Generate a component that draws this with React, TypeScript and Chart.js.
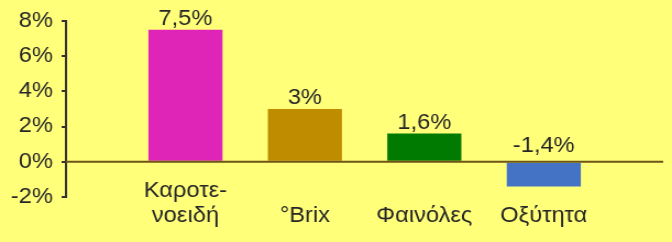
import React, { useEffect, useRef } from "react";
import { Chart, registerables } from "chart.js";

Chart.register(...registerables);

const categories: string[] = ["", "Καροτε-\nνοειδή", "°Brix", "Φαινόλες", "Οξύτητα", ""];
const values: (number | null)[] = [null, 7.5, 3, 1.6, -1.4, null];
const valueLabels: string[] = ["", "7,5%", "3%", "1,6%", "-1,4%", ""];
const barColors: string[] = ["#000000", "#DF25B8", "#BF8C00", "#007A00", "#4472C4", "#000000"];
const yTicks = { min: -2, max: 8, step: 2 };

const FONT = "'Liberation Sans', Arial, sans-serif";
const TEXT = "#262626";
const FS = 21.5;
const CANVAS_W = 611; // drawn narrower and shown stretched to 672px, like the reference
const CANVAS_H = 242;

const overlay = {
  id: "overlay",
  afterDatasetsDraw(chart: any) {
    const { ctx, scales } = chart;
    const x = scales.x;
    const y = scales.y;
    const y0 = y.getPixelForValue(0);
    ctx.save();
    // zero line
    ctx.strokeStyle = "#6E5416";
    ctx.lineWidth = 2;
    ctx.beginPath();
    ctx.moveTo(x.left, y0);
    ctx.lineTo(x.right, y0);
    ctx.stroke();
    ctx.fillStyle = TEXT;
    ctx.font = FS + "px " + FONT;
    ctx.textAlign = "center";
    ctx.textBaseline = "alphabetic";
    // value labels
    values.forEach((v, i) => {
      if (v === null) return;
      const px = x.getPixelForValue(i);
      const top = y.getPixelForValue(Math.max(v, 0));
      ctx.fillText(valueLabels[i], px, top - (v < 0 ? 10 : 5));
    });
    // category labels, bottom aligned
    const baseLast = 222;
    const lineH = 25;
    categories.forEach((c, i) => {
      if (!c) return;
      const px = x.getPixelForValue(i);
      const lines = c.split("\n");
      lines.forEach((ln, k) => {
        ctx.fillText(ln, px, baseLast - (lines.length - 1 - k) * lineH);
      });
    });
    ctx.restore();
  },
};

export default function App() {
  const ref = useRef<HTMLCanvasElement>(null);
  useEffect(() => {
    document.body.style.margin = "0";
    document.body.style.background = "#FFFF7A";
    const chart = new Chart(ref.current!, {
      type: "bar",
      data: {
        labels: categories,
        datasets: [
          {
            data: values,
            backgroundColor: barColors,
            barPercentage: 0.62,
            categoryPercentage: 1,
          },
        ],
      },
      options: {
        animation: false,
        responsive: false,
        maintainAspectRatio: false,
        devicePixelRatio: 1,
        layout: { padding: { top: 17, right: 8, left: 0, bottom: 0 } },
        plugins: { legend: { display: false }, tooltip: { enabled: false } },
        scales: {
          x: {
            offset: false,
            grid: { display: false, drawTicks: false },
            border: { display: false },
            ticks: { display: false },
            afterFit: (s: any) => {
              s.height = 45;
            },
          },
          y: {
            min: yTicks.min,
            max: yTicks.max,
            grid: { drawOnChartArea: false, tickLength: 4, color: "#333333", lineWidth: 2 },
            border: { display: true, color: "#333333", width: 2 },
            ticks: {
              stepSize: yTicks.step,
              color: TEXT,
              font: { family: FONT, size: FS },
              padding: 8,
              callback: (v: any) => v + "%",
            },
            afterFit: (s: any) => {
              s.width = 60;
            },
          },
        },
      },
      plugins: [overlay],
    });
    return () => chart.destroy();
  }, []);
  return (
    <canvas
      ref={ref}
      width={CANVAS_W}
      height={CANVAS_H}
      style={{ display: "block", width: "672px", height: "242px" }}
    />
  );
}
